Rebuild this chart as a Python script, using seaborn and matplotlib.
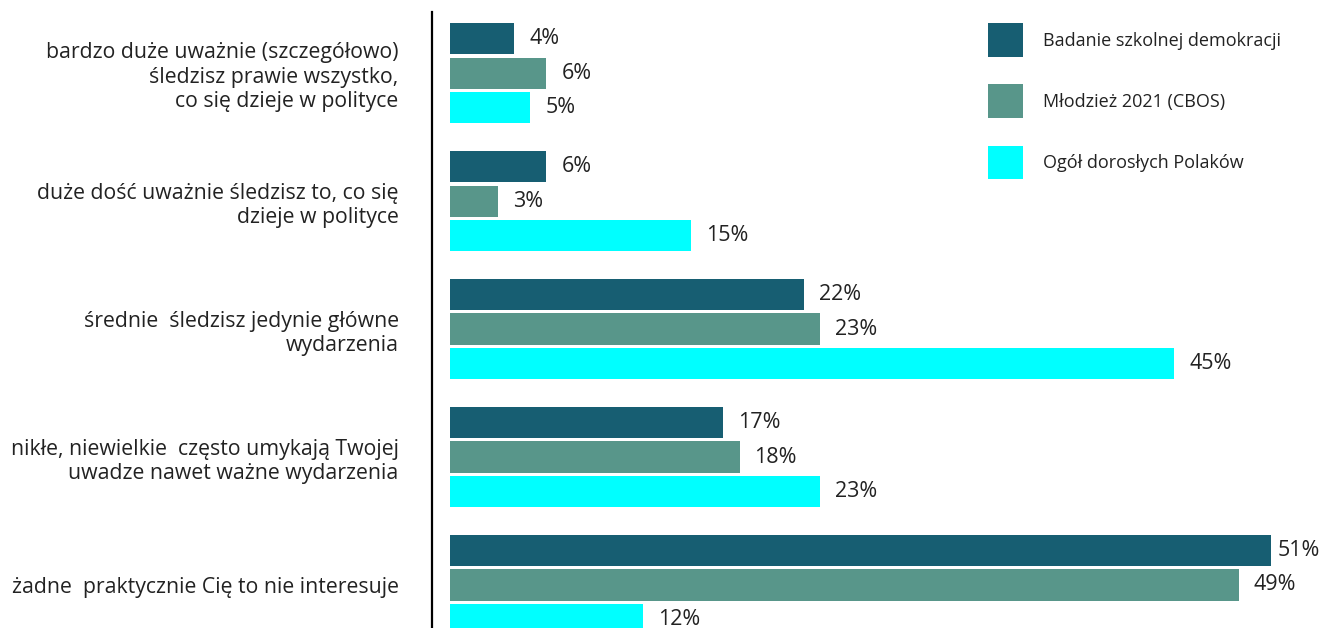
import matplotlib
matplotlib.use("Agg")
import matplotlib.pyplot as plt
import seaborn as sns
import pandas as pd
from matplotlib.patches import Patch

categories = [
    "bardzo duże uważnie (szczegółowo)\nśledzisz prawie wszystko,\nco się dzieje w polityce",
    "duże dość uważnie śledzisz to, co się\ndzieje w polityce",
    "średnie  śledzisz jedynie główne\nwydarzenia",
    "nikłe, niewielkie  często umykają Twojej\nuwadze nawet ważne wydarzenia",
    "żadne  praktycznie Cię to nie interesuje",
]
series = ["Badanie szkolnej demokracji", "Młodzież 2021 (CBOS)", "Ogół dorosłych Polaków"]
badanie = [4, 6, 22, 17, 51]
mlodziez = [6, 3, 23, 18, 49]
dorosli = [5, 15, 45, 23, 12]
colors = ["#175E72", "#58968A", "#00FFFF"]

rows = []
for s, vals in zip(series, [badanie, mlodziez, dorosli]):
    for c, v in zip(categories, vals):
        rows.append({"kategoria": c, "seria": s, "wartosc": v})
df = pd.DataFrame(rows)

sns.set_theme(style="white")
plt.rcParams["font.family"] = ["Open Sans", "DejaVu Sans"]
text_color = "#222222"
DPI = 100

fig = plt.figure(figsize=(13.24, 6.28), dpi=DPI)
ax = fig.add_axes([432 / 1324, 0.0, 1 - 432 / 1324, (628 - 12) / 628])

sns.barplot(data=df, y="kategoria", x="wartosc", hue="seria", order=categories,
            hue_order=series, palette=colors, orient="h", width=0.8, gap=0.09,
            saturation=1, linewidth=0, ax=ax, legend=False)

labels = []
for cont in ax.containers:
    labels += ax.bar_label(cont, fmt="%d%%", padding=10.8, fontsize=15.5, color=text_color)

ax.set_xlim(-1.1, 54.3)
ax.set_ylim(4.336, -0.477)
ax.set_xlabel("")
ax.set_ylabel("")
ax.set_xticks([])
for sp in ["top", "right", "bottom"]:
    ax.spines[sp].set_visible(False)
ax.spines["left"].set_color("black")
ax.spines["left"].set_linewidth(1.6)
ax.tick_params(axis="y", length=0, pad=24, labelsize=15.3, labelcolor=text_color)
for lab in ax.get_yticklabels():
    lab.set_horizontalalignment("right")
    lab.set_multialignment("right")

handles = [Patch(facecolor=c, edgecolor="none", label=s) for c, s in zip(colors, series)]
leg = fig.legend(handles=handles, loc="upper left", bbox_to_anchor=(974 / 1324, 1 - 9 / 628),
                 frameon=False, fontsize=13, handlelength=1.9, handleheight=2.44,
                 labelspacing=1.55, handletextpad=1.1, borderpad=0.3)
for t in leg.get_texts():
    t.set_color(text_color)

# keep value labels inside the figure (as in the reference)
fig.canvas.draw()
limit = fig.bbox.width - 4
for t in labels:
    bb = t.get_window_extent()
    if bb.x1 > limit:
        dx_pt = (bb.x1 - limit) * 72 / DPI
        x0, y0 = t.xyann
        t.xyann = (x0 - dx_pt, y0)

fig.savefig("out.png", dpi=DPI)
